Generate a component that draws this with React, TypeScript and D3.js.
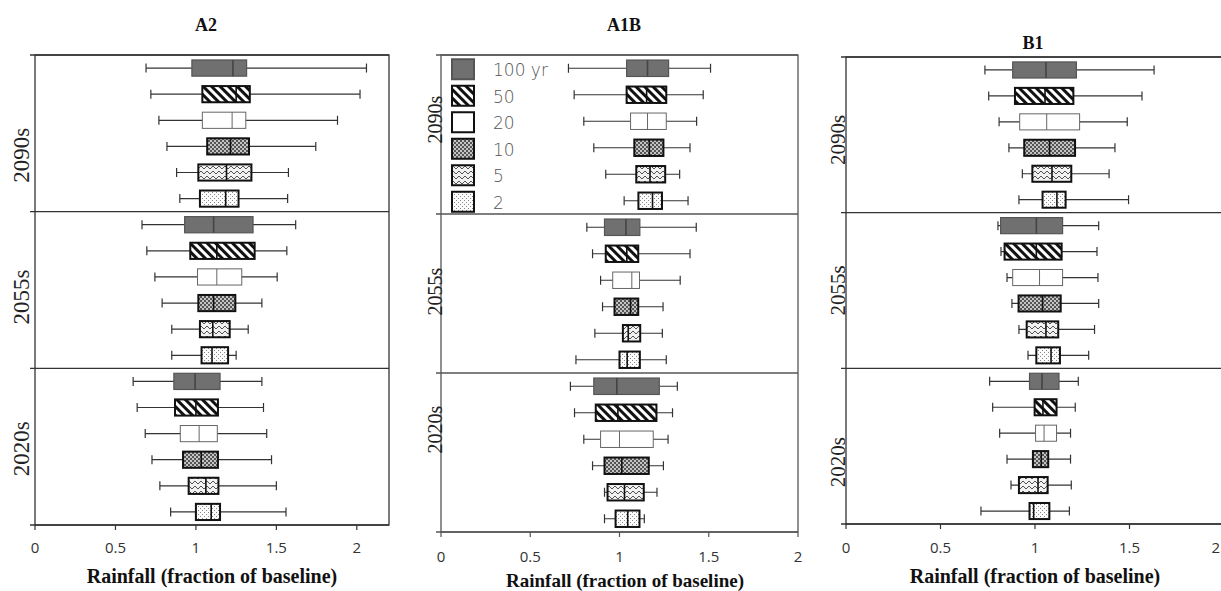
import React from 'react';
import * as d3 from 'd3';

const periods = ['2090s', '2055s', '2020s'];
const returnPeriods = ['100 yr', '50', '20', '10', '5', '2'];
const patternIds = ['p100', 'p50', 'p20', 'p10', 'p5', 'p2'];

// each row: [whisker low, q1, median, q3, whisker high], order 100,50,20,10,5,2 yr
const a2_2090s = [[0.69, 0.975, 1.23, 1.315, 2.06], [0.72, 1.04, 1.25, 1.335, 2.02], [0.77, 1.04, 1.225, 1.31, 1.88], [0.82, 1.07, 1.215, 1.33, 1.745], [0.88, 1.015, 1.19, 1.345, 1.575], [0.9, 1.025, 1.185, 1.265, 1.57]];
const a2_2055s = [[0.665, 0.93, 1.11, 1.355, 1.62], [0.695, 0.965, 1.13, 1.365, 1.565], [0.745, 1.01, 1.13, 1.285, 1.505], [0.79, 1.015, 1.11, 1.245, 1.41], [0.85, 1.025, 1.105, 1.21, 1.325], [0.85, 1.035, 1.1, 1.2, 1.25]];
const a2_2020s = [[0.61, 0.863, 0.995, 1.15, 1.41], [0.635, 0.87, 1.0, 1.137, 1.42], [0.685, 0.903, 1.02, 1.133, 1.44], [0.727, 0.92, 1.033, 1.137, 1.47], [0.776, 0.955, 1.062, 1.14, 1.5], [0.843, 1.0, 1.095, 1.15, 1.56]];

const a1b_2090s = [[0.714, 1.04, 1.157, 1.275, 1.51], [0.746, 1.04, 1.152, 1.262, 1.469], [0.8, 1.062, 1.157, 1.262, 1.432], [0.856, 1.083, 1.167, 1.246, 1.395], [0.923, 1.094, 1.171, 1.256, 1.337], [1.026, 1.106, 1.185, 1.238, 1.384]];
const a1b_2055s = [[0.817, 0.916, 1.036, 1.114, 1.43], [0.849, 0.923, 1.041, 1.105, 1.395], [0.894, 0.962, 1.069, 1.112, 1.34], [0.905, 0.972, 1.062, 1.105, 1.244], [0.862, 1.019, 1.049, 1.116, 1.24], [0.756, 1.0, 1.043, 1.114, 1.262]];
const a1b_2020s = [[0.725, 0.856, 0.985, 1.223, 1.324], [0.748, 0.867, 0.991, 1.207, 1.297], [0.8, 0.894, 1.0, 1.189, 1.272], [0.849, 0.916, 1.013, 1.164, 1.246], [0.916, 0.933, 1.028, 1.136, 1.21], [0.916, 0.978, 1.046, 1.112, 1.139]];

const b1_2090s = [[0.735, 0.882, 1.058, 1.219, 1.63], [0.755, 0.894, 1.053, 1.203, 1.566], [0.81, 0.919, 1.062, 1.236, 1.488], [0.862, 0.943, 1.077, 1.212, 1.423], [0.933, 0.986, 1.09, 1.192, 1.392], [0.915, 1.04, 1.116, 1.162, 1.495]];
const b1_2055s = [[0.804, 0.818, 1.007, 1.146, 1.337], [0.82, 0.839, 1.007, 1.141, 1.328], [0.852, 0.882, 1.024, 1.146, 1.333], [0.878, 0.913, 1.04, 1.136, 1.337], [0.915, 0.956, 1.058, 1.123, 1.315], [0.963, 1.007, 1.085, 1.132, 1.284]];
const b1_2020s = [[0.76, 0.971, 1.037, 1.127, 1.229], [0.776, 0.998, 1.042, 1.114, 1.213], [0.813, 1.003, 1.048, 1.114, 1.188], [0.852, 0.989, 1.033, 1.07, 1.188], [0.873, 0.915, 1.016, 1.067, 1.192], [0.714, 0.971, 0.993, 1.076, 1.182]];

const panels = [
  { title: 'A2', data: [a2_2090s, a2_2055s, a2_2020s], left: 35, right: 389, max: 2.2, top: 55, bottom: 525,
    titleX: 206, titleY: 31, tickY: 553, axisTitleX: 212, axisTitleY: 583, axisTitleSize: 20, frame: '#333',
    labelX: 29, labelSize: 23, labelDy: [22, 7, 2], legend: false },
  { title: 'A1B', data: [a1b_2090s, a1b_2055s, a1b_2020s], left: 441, right: 798, max: 2, top: 55, bottom: 532,
    titleX: 624, titleY: 31, tickY: 562, axisTitleX: 625, axisTitleY: 587, axisTitleSize: 19, frame: '#555',
    labelX: 442, labelSize: 20, labelDy: [-15, -2, -23], legend: true },
  { title: 'B1', data: [b1_2090s, b1_2055s, b1_2020s], left: 846, right: 1224, max: 2, top: 57, bottom: 524,
    titleX: 1033, titleY: 49, tickY: 553, axisTitleX: 1035, axisTitleY: 583, axisTitleSize: 20, frame: '#333',
    labelX: 845, labelSize: 21, labelDy: [5, 0, 16], legend: false },
];

const boxStyle = (i: number) => {
  if (i === 0) return { stroke: '#555', width: 1.2 };
  if (i === 2) return { stroke: '#666', width: 1 };
  return { stroke: '#111', width: 2 };
};

const Patterns = () => (
  <defs>
    <pattern id="p100" width="4" height="4" patternUnits="userSpaceOnUse">
      <rect width="4" height="4" fill="#707070" />
    </pattern>
    <pattern id="p50" width="6" height="6" patternUnits="userSpaceOnUse" patternTransform="rotate(45)">
      <rect width="6" height="6" fill="#fff" />
      <rect width="6" height="3" fill="#111" />
    </pattern>
    <pattern id="p20" width="4" height="4" patternUnits="userSpaceOnUse">
      <rect width="4" height="4" fill="#fff" />
    </pattern>
    <pattern id="p10" width="4" height="4" patternUnits="userSpaceOnUse">
      <rect width="4" height="4" fill="#c4c4c4" />
      <rect width="2" height="2" fill="#555" />
      <rect x="2" y="2" width="2" height="2" fill="#555" />
    </pattern>
    <pattern id="p5" width="6" height="5" patternUnits="userSpaceOnUse">
      <rect width="6" height="5" fill="#f2f2f2" />
      <path d="M0,4 L3,1 L6,4" fill="none" stroke="#555" strokeWidth="1" />
    </pattern>
    <pattern id="p2" width="4" height="4" patternUnits="userSpaceOnUse">
      <rect width="4" height="4" fill="#fbfbfb" />
      <rect x="0" y="0" width="1" height="1" fill="#888" />
      <rect x="2" y="2" width="1" height="1" fill="#888" />
    </pattern>
  </defs>
);

const Panel = ({ p }: { p: typeof panels[number] }) => {
  const x = d3.scaleLinear().domain([0, p.max]).range([p.left, p.right]);
  const y = d3.scaleBand().domain(periods).range([p.top, p.bottom]);
  const inner = d3.scaleBand().domain(returnPeriods).range([0, y.bandwidth()]).paddingInner(0.38).paddingOuter(0.19);
  const bh = inner.bandwidth();
  const ticks = x.ticks(5);
  const boundaries = [p.top, ...periods.slice(1).map(d => y(d) as number), p.bottom];

  return (
    <g>
      <text x={p.titleX} y={p.titleY} textAnchor="middle" fontFamily="'Liberation Serif', serif" fontWeight="bold" fontSize={18} fill="#111">{p.title}</text>

      {/* frame and section separators */}
      <rect x={p.left} y={p.top} width={p.right - p.left} height={p.bottom - p.top} fill="none" stroke={p.frame} strokeWidth={1.3} />
      {boundaries.map((b, i) => (
        <line key={i} x1={p.left - 5} x2={p.right} y1={b} y2={b} stroke={p.frame} strokeWidth={1.3} />
      ))}

      {/* x axis ticks */}
      {ticks.map(t => {
        const edge = x(t) > 1215;
        return (
          <g key={t}>
            <line x1={x(t)} x2={x(t)} y1={p.bottom} y2={p.bottom + 5} stroke={p.frame} strokeWidth={1.2} />
            <text x={edge ? 1220 : x(t)} y={p.tickY} textAnchor={edge ? 'end' : 'middle'} fontFamily="'Open Sans', sans-serif" fontSize={15} fill="#333">{String(t)}</text>
          </g>
        );
      })}
      <text x={p.axisTitleX} y={p.axisTitleY} textAnchor="middle" fontFamily="'Liberation Serif', serif" fontWeight="bold" fontSize={p.axisTitleSize} fill="#111">Rainfall (fraction of baseline)</text>

      {/* period labels */}
      {periods.map((per, i) => {
        const cy = (y(per) as number) + y.bandwidth() / 2 + p.labelDy[i];
        return (
          <text key={per} transform={`translate(${p.labelX},${cy}) rotate(-90)`} textAnchor="middle"
            fontFamily="'Liberation Serif', serif" fontSize={p.labelSize} fill="#222">{per}</text>
        );
      })}

      {/* boxes */}
      {periods.map((per, si) => p.data[si].map((s, i) => {
        const cy = (y(per) as number) + (inner(returnPeriods[i]) as number) + bh / 2;
        const st = boxStyle(i);
        return (
          <g key={per + i}>
            <line x1={x(s[0])} x2={x(s[4])} y1={cy} y2={cy} stroke="#333" strokeWidth={1.2} />
            <line x1={x(s[0])} x2={x(s[0])} y1={cy - 4.5} y2={cy + 4.5} stroke="#333" strokeWidth={1.2} />
            <line x1={x(s[4])} x2={x(s[4])} y1={cy - 4.5} y2={cy + 4.5} stroke="#333" strokeWidth={1.2} />
            <rect x={x(s[1])} y={cy - bh / 2} width={x(s[3]) - x(s[1])} height={bh}
              fill={`url(#${patternIds[i]})`} stroke={st.stroke} strokeWidth={st.width} />
            <line x1={x(s[2])} x2={x(s[2])} y1={cy - bh / 2} y2={cy + bh / 2} stroke={i === 0 ? '#444' : st.stroke} strokeWidth={i === 2 ? 1 : 1.6} />
          </g>
        );
      }))}

      {/* legend */}
      {p.legend && returnPeriods.map((rp, i) => {
        const cy = (y(periods[0]) as number) + (inner(rp) as number) + bh / 2 + 1;
        const st = boxStyle(i);
        return (
          <g key={rp}>
            <rect x={452} y={cy - 10} width={22} height={20} fill={`url(#${patternIds[i]})`} stroke={i === 2 ? '#111' : st.stroke} strokeWidth={2} />
            <text x={493} y={cy + 7} fontFamily="'Segoe Print', 'DejaVu Sans', sans-serif" fontWeight={300} fontSize={17} fill="#555">{rp}</text>
          </g>
        );
      })}
    </g>
  );
};

const App = () => (
  <svg width={1221} height={591} style={{ position: 'absolute', left: 0, top: 0, background: '#fff' }}>
    <Patterns />
    {panels.map(p => <Panel key={p.title} p={p} />)}
  </svg>
);

export default App;
